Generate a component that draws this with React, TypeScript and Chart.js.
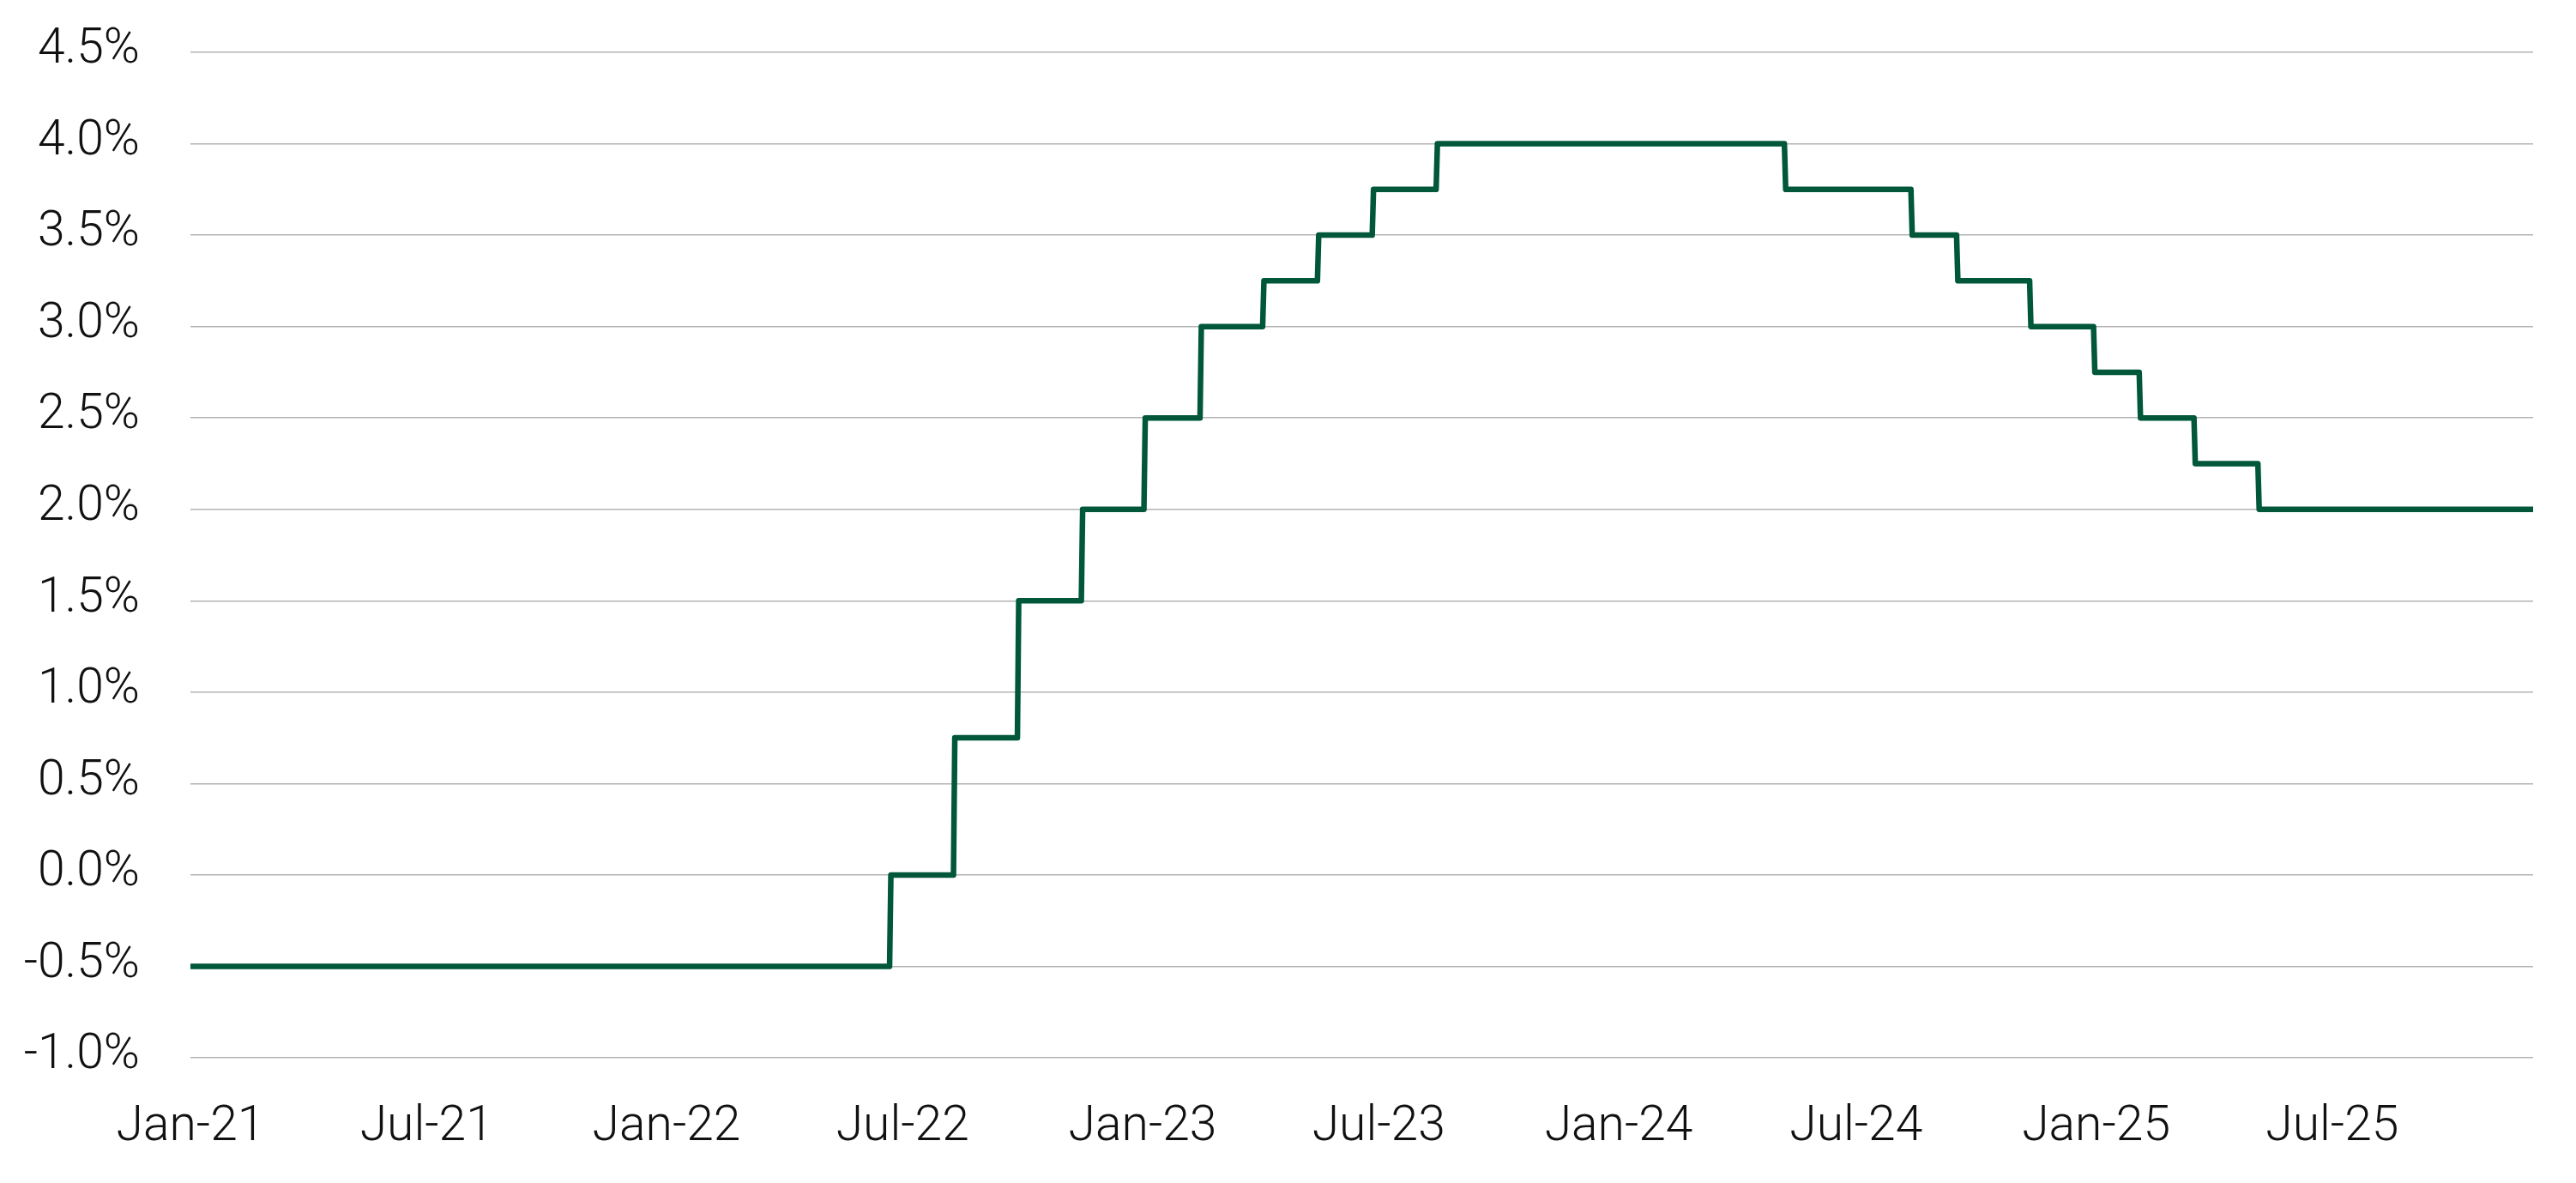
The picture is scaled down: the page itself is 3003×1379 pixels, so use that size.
import { useEffect, useRef } from "react";
import { Chart, registerables } from "chart.js";

Chart.register(...registerables);

// rate changes (date the new level starts, level in %)
const START_DATE = "2021-01-01";
const END_DATE = "2025-12-02";
const CHANGE_DATES = [
	"2021-01-01",
	"2022-06-22",
	"2022-08-10",
	"2022-09-28",
	"2022-11-16",
	"2023-01-03",
	"2023-02-15",
	"2023-04-04",
	"2023-05-16",
	"2023-06-27",
	"2023-08-15",
	"2024-05-08",
	"2024-08-13",
	"2024-09-17",
	"2024-11-12",
	"2024-12-31",
	"2025-02-04",
	"2025-03-18",
	"2025-05-06",
];
const RATES = [
	-0.5, 0, 0.75, 1.5, 2.0, 2.5, 3.0, 3.25, 3.5, 3.75, 4.0, 3.75, 3.5, 3.25, 3.0, 2.75, 2.5, 2.25, 2.0,
];

const TICK_DATES = [
	"2021-01-01",
	"2021-07-01",
	"2022-01-01",
	"2022-07-01",
	"2023-01-01",
	"2023-07-01",
	"2024-01-01",
	"2024-07-01",
	"2025-01-01",
	"2025-07-01",
];
const TICK_LABELS = ["Jan-21", "Jul-21", "Jan-22", "Jul-22", "Jan-23", "Jul-23", "Jan-24", "Jul-24", "Jan-25", "Jul-25"];

const Y_MIN = -1;
const Y_MAX = 4.5;
const Y_STEP = 0.5;

const DAY_MS = 86400000;
const toDay = (d: string) => (Date.parse(d + "T00:00:00Z") - Date.parse(START_DATE + "T00:00:00Z")) / DAY_MS;

const FONT = "Roboto, 'Liberation Sans', Arial, sans-serif";

export default function App() {
	const ref = useRef<HTMLCanvasElement>(null);

	useEffect(() => {
		const canvas = ref.current;
		if (!canvas) {
			return;
		}

		// daily series: the old level holds until the day before each change
		const points: { x: number; y: number }[] = [];
		CHANGE_DATES.forEach((d, i) => {
			if (i > 0) {
				points.push({ x: toDay(d) - 1, y: RATES[i - 1] });
			}
			points.push({ x: toDay(d), y: RATES[i] });
		});
		points.push({ x: toDay(END_DATE), y: RATES[RATES.length - 1] });

		const chart = new Chart(canvas, {
			type: "line",
			data: {
				datasets: [
					{
						label: "Rate",
						data: points,
						borderColor: "#00573a",
						borderWidth: 6.5,
						borderJoinStyle: "round",
						borderCapStyle: "round",
						pointRadius: 0,
						tension: 0,
						fill: false,
					},
				],
			},
			options: {
				animation: false,
				responsive: true,
				maintainAspectRatio: false,
				layout: {
					padding: { top: 61, right: 50, left: 0, bottom: 0 },
				},
				plugins: {
					legend: { display: false },
					tooltip: { enabled: false },
				},
				scales: {
					x: {
						type: "linear",
						min: 0,
						max: toDay(END_DATE),
						grid: { display: false },
						border: { display: false },
						afterBuildTicks: (scale) => {
							scale.ticks = TICK_DATES.map((d) => ({ value: toDay(d) }));
						},
						afterFit: (scale) => {
							scale.height = 146;
						},
						ticks: {
							autoSkip: false,
							maxRotation: 0,
							padding: 40,
							color: "#111",
							font: { family: FONT, size: 57, weight: "300" },
							callback: (_v, i) => TICK_LABELS[i],
						},
					},
					y: {
						min: Y_MIN,
						max: Y_MAX,
						afterFit: (scale) => {
							scale.width = 222;
							// keep the label padding from pushing the plot area down
							scale.paddingTop = 0;
							scale.paddingBottom = 0;
						},
						grid: {
							color: "#b3b3b3",
							lineWidth: 1.5,
							drawTicks: false,
						},
						border: { display: false },
						ticks: {
							stepSize: Y_STEP,
							padding: 59,
							labelOffset: -2,
							color: "#111",
							font: { family: FONT, size: 57, weight: "300" },
							callback: (v) => Number(v).toFixed(1) + "%",
						},
					},
				},
			},
		});

		return () => {
			chart.destroy();
		};
	}, []);

	return (
		<div style={{ position: "fixed", left: 0, top: 0, width: 3003, height: 1379, background: "#fff" }}>
			<canvas ref={ref} />
		</div>
	);
}
